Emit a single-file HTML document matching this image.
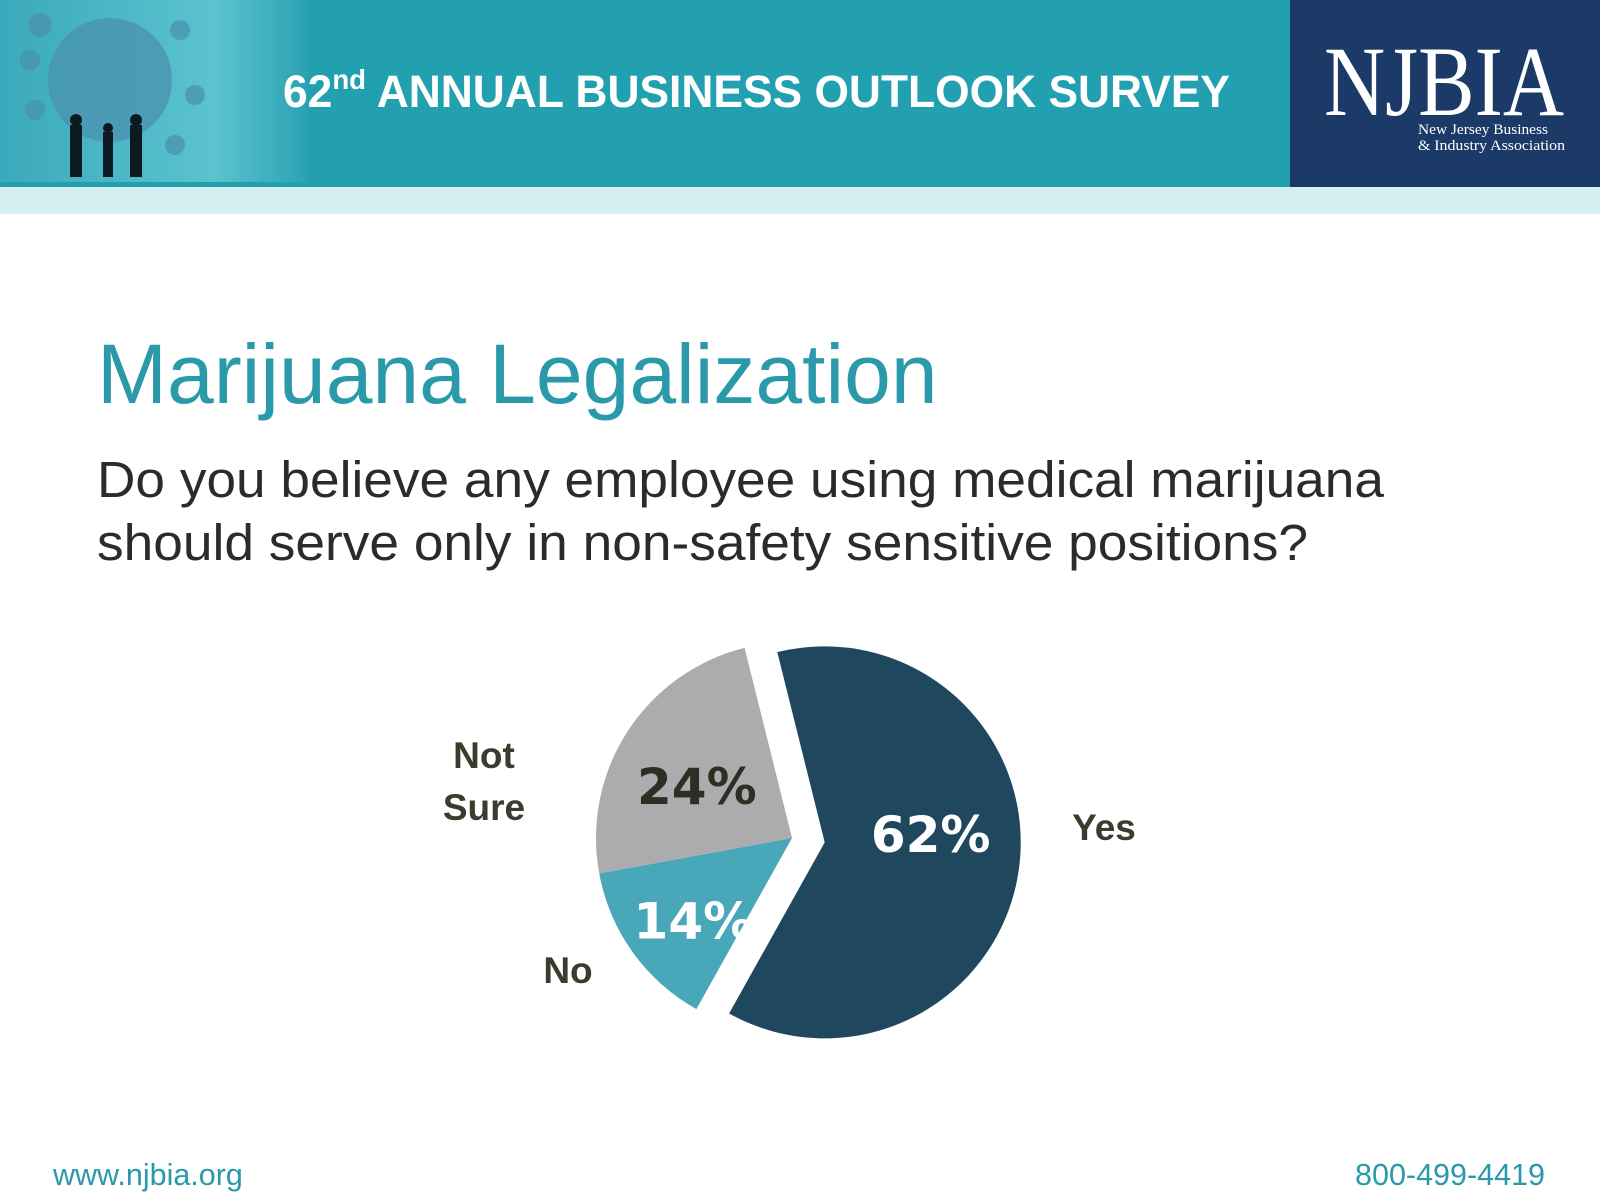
<!DOCTYPE html>
<html><head><meta charset="utf-8"><style>
html,body{margin:0;padding:0;background:#fff;}
body{width:1600px;height:1200px;position:relative;overflow:hidden;font-family:"Liberation Sans",Arial,sans-serif;}
</style></head><body>
<svg width="1600" height="1200" viewBox="0 0 1600 1200" xmlns="http://www.w3.org/2000/svg" style="position:absolute;left:0;top:0">
  <defs>
    <linearGradient id="lg" x1="0" y1="0" x2="1" y2="0">
      <stop offset="0" stop-color="#3aa9bb"/><stop offset="0.7" stop-color="#5cc3cf"/><stop offset="1" stop-color="#2aa2b2"/>
    </linearGradient>
  </defs>
  <g>
    <rect x="0" y="0" width="1600" height="187" fill="#22a0b0"/>
    <rect x="0" y="187" width="1600" height="27" fill="#d5eef0"/>
    <rect x="0" y="0" width="308" height="182" fill="url(#lg)"/>
    <g fill="#4a92b0" opacity="0.75">
      <circle cx="110" cy="80" r="62"/>
      <circle cx="40" cy="25" r="12"/><circle cx="30" cy="60" r="10"/><circle cx="35" cy="110" r="10"/>
      <circle cx="180" cy="30" r="10"/><circle cx="195" cy="95" r="10"/><circle cx="175" cy="145" r="10"/>
    </g>
    <g fill="#0e1a22">
      <rect x="70" y="125" width="12" height="52"/><rect x="103" y="132" width="10" height="45"/><rect x="130" y="125" width="12" height="52"/>
      <circle cx="76" cy="120" r="6"/><circle cx="108" cy="128" r="5"/><circle cx="136" cy="120" r="6"/>
    </g>
    <text x="283" y="107" fill="#fff" font-weight="bold" font-size="45" textLength="947" lengthAdjust="spacingAndGlyphs">62<tspan font-size="28" dy="-18">nd</tspan><tspan dy="18"> ANNUAL BUSINESS OUTLOOK SURVEY</tspan></text>
    <rect x="1290" y="0" width="310" height="187" fill="#1b3a68"/>
    <text x="1324" y="115" fill="#fff" font-family="Liberation Serif,serif" font-size="100" textLength="240" lengthAdjust="spacingAndGlyphs">NJBIA</text>
    <text x="1418" y="134" fill="#fff" font-family="Liberation Serif,serif" font-size="15" textLength="130" lengthAdjust="spacingAndGlyphs">New Jersey Business</text>
    <text x="1418" y="150" fill="#fff" font-family="Liberation Serif,serif" font-size="15" textLength="147" lengthAdjust="spacingAndGlyphs">&amp; Industry Association</text>
  </g>
  <text x="97" y="403" fill="#2a9aab" font-size="84">Marijuana Legalization</text>
  <text x="97" y="497" fill="#2b2b2b" font-size="51" textLength="1287" lengthAdjust="spacingAndGlyphs">Do you believe any employee using medical marijuana</text>
  <text x="97" y="560" fill="#2b2b2b" font-size="51" textLength="1211" lengthAdjust="spacingAndGlyphs">should serve only in non-safety sensitive positions?</text>
  <g id="pie"></g>
  <text x="53" y="1185" fill="#2a9aab" font-size="30.5">www.njbia.org</text>
  <text x="1545" y="1185" fill="#2a9aab" font-size="30.5" text-anchor="end">800-499-4419</text>
</svg>
<script>
const categories = ["Yes", "No", "Not Sure"];
const values = [62, 14, 24];
const valueLabels = ["62%", "14%", "24%"];
const colors = ["#1f475e", "#49a7ba", "#acacae"];
const NS = "http://www.w3.org/2000/svg";
const g = document.getElementById("pie");
const cx = 792, cy = 838, r = 196, startDeg = -14, explode = 33;
const total = values.reduce((a,b)=>a+b,0);
function pt(x,y,deg,rad){const a=deg*Math.PI/180;return [x+rad*Math.sin(a), y-rad*Math.cos(a)];}
const pctStyle = [{fill:"#fff",rf:0.53,dx:3,dy:-22},{fill:"#fff",rf:0.6,dx:-3,dy:14},{fill:"#2f2e25",rf:0.62,dx:7,dy:14}];
const outer = [
  {lines:["Yes"], x:1104, y:840},
  {lines:["No"], x:568, y:983},
  {lines:["Not","Sure"], x:484, y:768}
];
let acc = startDeg;
values.forEach((v,i)=>{
  const span = v/total*360;
  const a0 = acc, a1 = acc+span, mid = acc+span/2;
  acc = a1;
  let ox = cx, oy = cy;
  if (i===0){ [ox,oy] = pt(cx,cy,mid,explode); }
  const p0 = pt(ox,oy,a0,r), p1 = pt(ox,oy,a1,r);
  const path = document.createElementNS(NS,"path");
  path.setAttribute("d",`M${ox},${oy} L${p0[0]},${p0[1]} A${r},${r} 0 ${span>180?1:0} 1 ${p1[0]},${p1[1]} Z`);
  path.setAttribute("fill",colors[i]);
  
  
  g.appendChild(path);
  const lp = pt(ox,oy,mid,r*pctStyle[i].rf);
  const t = document.createElementNS(NS,"text");
  t.setAttribute("x",lp[0]+pctStyle[i].dx); t.setAttribute("y",lp[1]+18+pctStyle[i].dy);
  t.setAttribute("text-anchor","middle"); t.setAttribute("font-weight","bold");
  t.setAttribute("font-size","50"); t.setAttribute("fill",pctStyle[i].fill);
  t.setAttribute("font-family","DejaVu Sans, Liberation Sans, sans-serif");
  t.textContent = valueLabels[i];
  
  
  g.appendChild(t);
  const o = outer[i];
  o.lines.forEach((ln,k)=>{
    const c = document.createElementNS(NS,"text");
    c.setAttribute("x",o.x); c.setAttribute("y",o.y + k*52);
    c.setAttribute("text-anchor","middle"); c.setAttribute("font-weight","bold");
    c.setAttribute("font-size","37"); c.setAttribute("fill","#3d3a2e");
    c.textContent = ln;
    
    
    g.appendChild(c);
  });
});
</script>
</body></html>
